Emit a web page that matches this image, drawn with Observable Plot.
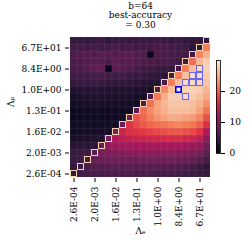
<!DOCTYPE html>
<html><head><meta charset="utf-8">
<script src="https://cdn.jsdelivr.net/npm/d3@7"></script>
<script src="https://cdn.jsdelivr.net/npm/@observablehq/plot@0.6"></script>
<style>
body{margin:0;background:#fff;}
#wrap{position:relative;width:249px;height:240px;}
#cb{position:absolute;left:205px;top:50px;}
svg, svg text{font-family:"DejaVu Serif","Liberation Serif",serif !important;}
</style></head><body><div id="wrap"><div id="main"></div><div id="cb"></div></div>
<script>
// Λ values (both axes), all 20 cells
const lambdaLabels = ["2.6E-04","5.1E-04","1.0E-03","2.0E-03","4.1E-03","8.2E-03","1.6E-02","3.3E-02","6.5E-02","1.3E-01",
  "2.6E-01","5.2E-01","1.0E+00","2.1E+00","4.2E+00","8.4E+00","1.7E+01","3.3E+01","6.7E+01","1.3E+02"];
const tickLabels = ["2.6E-04","2.0E-03","1.6E-02","1.3E-01","1.0E+00","8.4E+00","6.7E+01"];
const cbTicks = [0, 10, 20];
const titleText = "b=64\nbest-accuracy\n= 0.30";

// accuracy (%) rows, one per Λp (row p19 = top), values for Λe left → right
const p19 = [4.2,4.6,4.0,4.3,4.8,3.6,4.4,4.9,4.2,4.5,4.8,4.4,5.0,4.6,4.2,4.5,3.8,3.6,3.9,4.2];
const p18 = [5.0,5.4,5.2,5.6,5.0,5.3,5.8,5.2,5.5,5.0,5.4,5.2,5.6,5.8,5.2,4.8,5.0,3.2,4.2,22];
const p17 = [6.0,6.5,6.8,6.3,7.0,6.6,6.2,6.8,7.2,6.5,6.2,0.8,6.0,5.8,5.6,5.4,5.2,5.2,22.5,25.5];
const p16 = [5.8,6.2,6.6,6.9,6.4,6.0,7.0,6.5,6.8,6.3,6.0,5.8,5.6,5.6,5.4,5.0,5.0,21,26,27.5];
const p15 = [5.6,6.0,6.5,7.0,7.2,0.6,6.8,6.6,6.2,5.8,5.0,4.8,4.6,4.4,4.2,5.5,22,26.5,28.6,28];
const p14 = [4.8,5.2,5.0,5.4,5.6,5.0,4.8,5.2,4.6,4.4,4.2,3.8,3.6,3.5,6.0,22,26.5,28.7,28.8,27.6];
const p13 = [4.2,4.6,4.4,4.8,4.5,4.2,4.0,3.8,3.6,3.4,3.0,2.8,2.7,6.0,22,26.5,28.6,28.8,28.6,27];
const p12 = [2.4,2.8,3.0,3.2,2.8,2.6,2.5,2.6,2.4,2.3,2.2,2.0,6.5,22.5,26.5,29.8,28.0,28.0,27.5,26];
const p11 = [1.8,2.2,2.4,2.6,2.4,2.2,2.0,2.1,2.0,1.8,1.8,6.0,21.5,25.5,27.5,27.6,28.6,27.5,26.5,25];
const p10 = [1.4,1.6,1.8,2.0,1.9,1.7,1.6,1.5,1.4,1.4,6.0,21,24.5,26,27,27,27,26.5,25.5,23.5];
const p9  = [0.8,0.9,1.0,1.1,1.0,0.9,0.9,1.0,1.1,7.0,21,23,24.5,25.5,26.5,26.5,26.5,26,24.5,21.5];
const p8  = [0.9,1.0,1.0,1.1,1.0,1.0,1.1,1.2,8.0,19,20.5,22,23.5,24.5,25,25,24.5,24,22.5,19];
const p7  = [1.1,1.2,1.2,1.3,1.3,1.4,1.5,8.5,17,18.5,19.5,20.5,21,21.5,22,22.5,22,21.5,20,16.5];
const p6  = [1.4,1.5,1.5,1.6,1.7,1.8,9.0,15,16.5,17,17.5,18,18.5,19,19.5,19.5,19,18.5,17,13];
const p5  = [2.0,2.2,2.3,2.4,2.6,9.0,13,14,14.5,15,15,15.5,15.5,16,16,16,15.5,15,14,10.5];
const p4  = [3.0,3.2,3.4,3.6,8.0,11,11.5,12,12,12.5,12.5,12.5,12.5,12.5,12.5,12.5,12,11.5,11,8.5];
const p3  = [4.4,4.6,4.8,7.0,9,9.5,10,10,10.5,10.5,10.5,10.5,10.5,10.5,10.5,10,10,9.5,9,7];
const p2  = [4.6,4.8,6.0,7.5,8,8.2,8.4,8.5,8.5,8.5,8.6,8.6,8.6,8.5,8.5,8.2,8,7.5,7,5.5];
const p1  = [4.0,5.0,6.0,6.4,6.6,6.8,7.0,7.0,7.0,7.0,7.0,6.8,6.8,6.6,6.4,6.2,6.0,5.5,4.5,3.8];
const p0  = [4.0,5.0,5.4,5.6,5.8,5.8,6.0,6.0,6.0,6.0,5.8,5.8,5.6,5.6,5.4,5.2,5.0,4.8,4.6,4.2];

// near-best cells (Λe index, Λp index) and the best cell
const nearE = [18,17,18,16,17,18,16];
const nearP = [15,14,14,13,13,13,11];
const bestE = [15];
const bestP = [12];

const rows = [p0,p1,p2,p3,p4,p5,p6,p7,p8,p9,p10,p11,p12,p13,p14,p15,p16,p17,p18,p19];
const data = [];
rows.forEach((r, j) => r.forEach((v, i) => data.push({e: lambdaLabels[i], p: lambdaLabels[j], v})));
const diag = lambdaLabels.map(l => ({e: l, p: l}));
const near = nearE.map((e, k) => ({e: lambdaLabels[e], p: lambdaLabels[nearP[k]]}));
const best = bestE.map((e, k) => ({e: lambdaLabels[e], p: lambdaLabels[bestP[k]]}));

const rocket = ["#03051a","#35193e","#701f57","#ad1759","#e13342","#f37651","#f6b48f","#faebdd"];
const rocketInterp = d3.piecewise(d3.interpolateRgb, rocket);
const colorOpts = {type: "linear", domain: [0, 30], interpolate: rocketInterp};
const font = {fontFamily: "'DejaVu Serif', 'Liberation Serif', serif", fontSize: "9px", background: "transparent", color: "black"};

const main = Plot.plot({
  width: 249, height: 240,
  marginLeft: 69, marginRight: 38, marginTop: 35, marginBottom: 62,
  style: font,
  x: {type: "band", domain: lambdaLabels, padding: 0},
  y: {type: "band", domain: lambdaLabels.slice().reverse(), padding: 0},
  color: colorOpts,
  marks: [
    Plot.cell(data, {x: "e", y: "p", fill: "v", stroke: "white", strokeOpacity: 0.08, strokeWidth: 0.6}),
    Plot.cell(diag, {x: "e", y: "p", fill: "none", stroke: "#f2d3ae", strokeWidth: 1, inset: 0.5}),
    Plot.cell(near, {x: "e", y: "p", fill: "none", stroke: "#5a5aff", strokeWidth: 0.9, inset: 0.5}),
    Plot.cell(best, {x: "e", y: "p", fill: "none", stroke: "#0000ff", strokeWidth: 1.6, inset: 0.8}),
    Plot.axisX(tickLabels, {tickSize: 4, tickPadding: 4, tickRotate: -90, label: null}),
    Plot.axisY(tickLabels, {tickSize: 4, tickPadding: 4, label: null}),
    Plot.text([titleText], {frameAnchor: "top", dy: -34, lineAnchor: "top", lineHeight: 1.1, fontSize: 9}),
    Plot.text(["Λₑ"], {frameAnchor: "bottom", dy: 55, fontSize: 9}),
    Plot.text(["Λₚ"], {frameAnchor: "left", dx: -58, rotate: -90, fontSize: 9})
  ]
});
document.getElementById("main").appendChild(main);

const cbStep = 0.25;
const cbVals = d3.range(0, 30, cbStep);
const cb = Plot.plot({
  width: 44, height: 110,
  marginLeft: 11, marginRight: 29, marginTop: 10, marginBottom: 7,
  style: font,
  x: {domain: [0, 1], axis: null},
  y: {domain: [0, 30]},
  color: colorOpts,
  marks: [
    Plot.rect(cbVals, {x1: 0, x2: 1, y1: d => d, y2: d => Math.min(30, d + 2 * cbStep), fill: d => d + cbStep / 2}),
    Plot.frame({stroke: "black", strokeWidth: 0.8}),
    Plot.axisY(cbTicks, {anchor: "right", tickSize: 4, tickPadding: 5, label: null})
  ]
});
document.getElementById("cb").appendChild(cb);
</script></body></html>
